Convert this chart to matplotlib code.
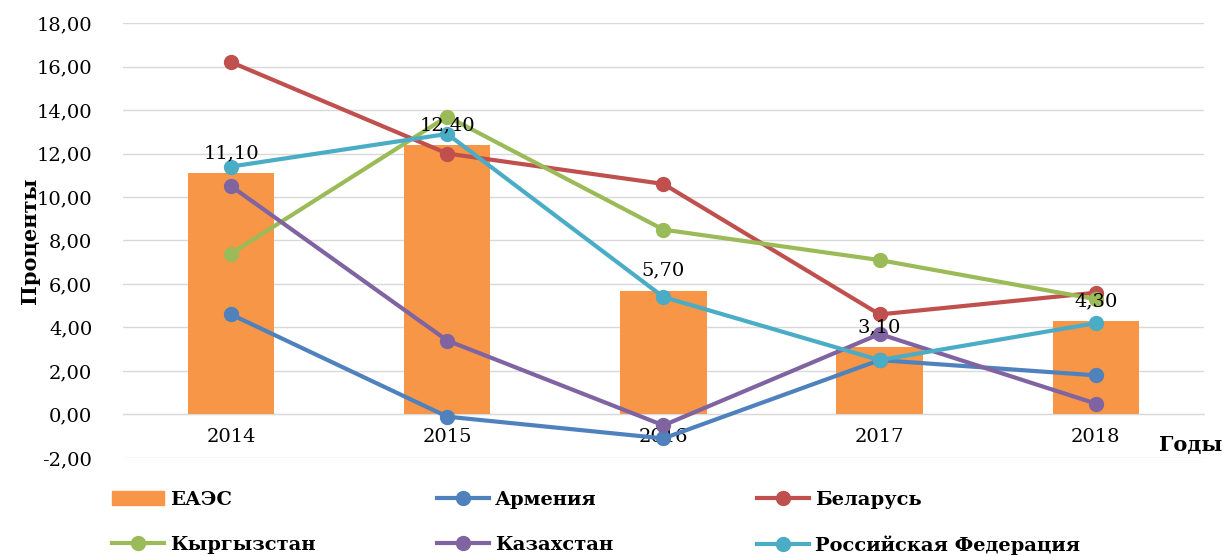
import matplotlib.pyplot as plt
from matplotlib.patches import Patch
from matplotlib.lines import Line2D

years = ['2014', '2015', '2016', '2017', '2018']
eaes = [11.10, 12.40, 5.70, 3.10, 4.30]
armenia = [4.6, -0.1, -1.1, 2.5, 1.8]
belarus = [16.2, 12.0, 10.6, 4.6, 5.6]
kyrgyzstan = [7.4, 13.7, 8.5, 7.1, 5.3]
kazakhstan = [10.5, 3.4, -0.5, 3.7, 0.5]
russia = [11.4, 12.9, 5.4, 2.5, 4.2]

lines = [
    ('Армения', armenia, '#4F81BD'),
    ('Беларусь', belarus, '#C0504D'),
    ('Кыргызстан', kyrgyzstan, '#9BBB59'),
    ('Казахстан', kazakhstan, '#8064A2'),
    ('Российская Федерация', russia, '#4BACC6'),
]

plt.rcParams['font.family'] = ['DejaVu Serif']

fig = plt.figure(figsize=(12.26, 5.56), dpi=100)
ax = fig.add_axes([0.1003, 0.1763, 0.8817, 0.7823])

x = list(range(len(years)))
ax.bar(x, eaes, width=0.4, color='#F79646', zorder=2)
for xi, v in zip(x, eaes):
    ax.text(xi, v + 0.5, f'{v:.2f}'.replace('.', ','), ha='center', va='bottom',
            fontsize=14, zorder=5)

for name, vals, col in lines:
    ax.plot(x, vals, color=col, lw=3, marker='o', markersize=10, zorder=3)

ax.set_ylim(-2, 18)
ax.set_xlim(-0.5, 4.5)
ax.grid(axis='y', color='#D9D9D9', lw=1, zorder=0)
ax.set_axisbelow(True)
for s in ['top', 'right', 'left']:
    ax.spines[s].set_visible(False)
ax.spines['bottom'].set_position(('data', 0))
ax.spines['bottom'].set_color('#D9D9D9')

ax.set_yticks(range(-2, 19, 2))
ax.set_yticklabels([f'{v:.2f}'.replace('.', ',') for v in range(-2, 19, 2)], fontsize=14)
ax.set_xticks(x)
ax.set_xticklabels(years, fontsize=14)
ax.tick_params(length=0)
ax.tick_params(axis='x', pad=10)
ax.tick_params(axis='y', pad=22)

ax.set_ylabel('Проценты', fontsize=15, fontweight='bold', labelpad=-2)
fig.text(0.997, 0.2, 'Годы', ha='right', va='center', fontsize=15, fontweight='bold')

handles = [Patch(color='#F79646')]
for name, vals, col in lines:
    handles.append(Line2D([], [], color=col, lw=3, marker='o', markersize=10))
labels = ['ЕАЭС'] + [l[0] for l in lines]

# legend entries placed one by one in a 3 x 2 grid
col_x = [0.080, 0.345, 0.606]
row_y = [0.101, 0.020]
for i, (h, lab) in enumerate(zip(handles, labels)):
    fig.legend([h], [lab], loc='center left',
               bbox_to_anchor=(col_x[i % 3], row_y[i // 3]), frameon=False,
               prop={'size': 14, 'weight': 'bold'}, handlelength=2.7,
               handletextpad=0.3, borderpad=0.2)

fig.savefig('out.png')
